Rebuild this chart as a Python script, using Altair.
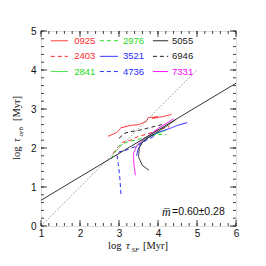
import altair as alt
import pandas as pd

# ---------------- data ----------------
series_names = ["0925", "2403", "2841", "2976", "3521", "4736", "5055", "6946", "7331"]
series_colors = ["#ff2a2a", "#ff2a2a", "#22dd22", "#22dd22", "#2a2aff", "#2a2aff", "#222222", "#222222", "#ff00ff"]
series_dash = ["solid", "dashed", "solid", "dashed", "solid", "dashed", "solid", "dashed", "solid"]

x0925 = [2.72, 2.95, 3.05, 3.3, 3.5, 3.7, 3.75, 4.0, 3.85, 4.1, 4.35]
y0925 = [2.3, 2.4, 2.52, 2.58, 2.6, 2.68, 2.78, 2.8, 2.76, 2.8, 2.86]
x2403 = [2.85, 2.95, 3.1, 3.3, 3.5, 3.7, 3.9, 4.1, 4.3]
y2403 = [1.85, 2.0, 2.15, 2.2, 2.3, 2.35, 2.42, 2.5, 2.55]
x2841 = [3.4, 3.5, 3.7, 3.9, 4.1, 4.2]
y2841 = [2.0, 2.1, 2.25, 2.35, 2.42, 2.45]
x2976 = [2.8, 2.9, 3.0, 3.2, 3.4, 3.6, 3.8, 4.0, 4.2]
y2976 = [1.72, 1.9, 2.05, 2.15, 2.2, 2.25, 2.3, 2.35, 2.35]
x3521 = [3.45, 3.5, 3.6, 3.8, 4.0, 4.3, 4.5, 4.75]
y3521 = [1.8, 2.0, 2.15, 2.3, 2.4, 2.5, 2.58, 2.65]
x4736 = [3.05, 3.02, 2.98, 2.95, 3.0, 3.2, 3.45, 3.7, 3.9]
y4736 = [0.82, 1.25, 1.6, 1.8, 1.9, 1.95, 2.05, 2.2, 2.3]
x5055 = [3.77, 3.6, 3.5, 3.52, 3.6, 3.8, 4.0, 4.2, 4.45]
y5055 = [1.43, 1.55, 1.77, 2.0, 2.15, 2.3, 2.42, 2.55, 2.72]
x6946 = [3.0, 3.15, 3.3, 3.5, 3.7, 3.9, 4.1]
y6946 = [2.25, 2.38, 2.42, 2.45, 2.5, 2.55, 2.6]
x7331 = [3.42, 3.38, 3.37, 3.45, 3.6, 3.8, 4.0, 4.2, 4.4]
y7331 = [1.3, 1.6, 1.85, 2.05, 2.2, 2.35, 2.5, 2.62, 2.75]

series_x = [x0925, x2403, x2841, x2976, x3521, x4736, x5055, x6946, x7331]
series_y = [y0925, y2403, y2841, y2976, y3521, y4736, y5055, y6946, y7331]

# fit line (slope 0.60) and 1:1 line
fit_x = [1.0, 6.0]
fit_y = [0.66, 3.66]
one_x = [1.0, 5.0]
one_y = [0.0, 4.0]

# legend layout (columns / rows in data units)
leg_col_x1 = [1.25, 2.51, 3.87]
leg_col_x2 = [1.69, 2.97, 4.26]
leg_col_tx = [1.85, 3.10, 4.36]
leg_row_y = [4.75, 4.35, 3.96]
leg_order = ["0925", "2976", "5055", "2403", "3521", "6946", "2841", "4736", "7331"]

x_ticks = [1, 2, 3, 4, 5, 6]
y_ticks = [0, 1, 2, 3, 4, 5]
x_minor = [round(1 + 0.2 * i, 2) for i in range(26)]
y_minor = [round(0.2 * i, 2) for i in range(26)]

W = 195
H = 195

# ---------------- tables ----------------
rows = []
for name, xs_, ys_, dash in zip(series_names, series_x, series_y, series_dash):
    for i, (a, b) in enumerate(zip(xs_, ys_)):
        rows.append({"series": name, "x": a, "y": b, "o": i, "dash": dash})
df = pd.DataFrame(rows)

leg_rows = []
for k, name in enumerate(leg_order):
    r, c = divmod(k, 3)
    idx = series_names.index(name)
    leg_rows.append({"series": name, "x1": leg_col_x1[c], "x2": leg_col_x2[c],
                     "tx": leg_col_tx[c], "y": leg_row_y[r], "dash": series_dash[idx]})
leg = pd.DataFrame(leg_rows)

xs = alt.Scale(domain=[1, 6], nice=False, zero=False)
ys = alt.Scale(domain=[0, 5], nice=False, zero=False)
cs = alt.Scale(domain=series_names, range=series_colors)
ds = alt.Scale(domain=["solid", "dashed"], range=[[1, 0], [4, 3]])

xaxis = alt.Axis(values=x_ticks, tickSize=0, domain=False, grid=False,
                 labelFont="Liberation Sans", labelFontSize=10,
                 labelColor="#111", labelPadding=2, labelOverlap=False,
                 labelFlush=False, labelBound=False)
yaxis = alt.Axis(values=y_ticks, tickSize=0, domain=False, grid=False,
                 labelFont="Liberation Sans", labelFontSize=10,
                 labelColor="#111", labelPadding=5, labelOverlap=False,
                 labelFlush=False, labelBound=False)


def X(field):
    return alt.X(field, type="quantitative", scale=xs, title=None, axis=xaxis)


def Y(field):
    return alt.Y(field, type="quantitative", scale=ys, title=None, axis=yaxis)


lines = alt.Chart(df).mark_line(strokeWidth=1, clip=True).encode(
    x=X("x"), y=Y("y"),
    color=alt.Color("series:N", scale=cs, legend=None),
    strokeDash=alt.StrokeDash("dash:N", scale=ds, legend=None),
    detail="series:N",
    order="o:Q",
)

fit = alt.Chart(pd.DataFrame({"x": fit_x, "y": fit_y})).mark_line(
    color="#333", strokeWidth=1).encode(x=X("x"), y=Y("y"))
one = alt.Chart(pd.DataFrame({"x": one_x, "y": one_y})).mark_line(
    color="#555", strokeWidth=0.7, strokeDash=[1, 1.5]).encode(x=X("x"), y=Y("y"))

leg_lines = alt.Chart(leg).mark_rule(strokeWidth=1).encode(
    x=X("x1"), x2="x2:Q", y=Y("y"),
    color=alt.Color("series:N", scale=cs, legend=None),
    strokeDash=alt.StrokeDash("dash:N", scale=ds, legend=None),
)
leg_text = alt.Chart(leg).mark_text(align="left", baseline="middle", font="Liberation Sans",
                                    fontSize=9.5).encode(
    x=X("tx"), y=Y("y"), text="series:N",
    color=alt.Color("series:N", scale=cs, legend=None),
)


# ticks (inward, all four sides)
def xt(vals, length):
    d = pd.DataFrame({"x": vals})
    bot = alt.Chart(d).mark_rule(color="#111", strokeWidth=0.8).encode(
        x=X("x"), y=alt.value(H), y2=alt.value(H - length))
    top = alt.Chart(d).mark_rule(color="#111", strokeWidth=0.8).encode(
        x=X("x"), y=alt.value(0), y2=alt.value(length))
    return [bot, top]


def yt(vals, length):
    d = pd.DataFrame({"y": vals})
    lef = alt.Chart(d).mark_rule(color="#111", strokeWidth=0.8).encode(
        y=Y("y"), x=alt.value(0), x2=alt.value(length))
    rig = alt.Chart(d).mark_rule(color="#111", strokeWidth=0.8).encode(
        y=Y("y"), x=alt.value(W), x2=alt.value(W - length))
    return [lef, rig]


ticks = xt(x_ticks, 6) + xt(x_minor, 3) + yt(y_ticks, 6) + yt(y_minor, 3)


# axis titles built from text pieces (with subscripts)
def txt(s, x, y, size=10, italic=False, angle=0, font="Liberation Serif"):
    kw = dict(align="left", baseline="alphabetic", font=font, fontSize=size, color="#111")
    if italic:
        kw["fontStyle"] = "italic"
    if angle:
        kw["angle"] = angle
    return alt.Chart(pd.DataFrame({"t": [s]})).mark_text(**kw).encode(
        x=alt.value(x), y=alt.value(y), text="t:N")


titles = [
    txt("log", 67, 218, 10.5),
    txt("τ", 85, 218, 10.5, italic=True),
    txt("SF", 90.5, 220.5, 7, italic=True),
    txt("[Myr]", 102, 218, 10.5),
    txt("log", -21, 129, 10.5, angle=270),
    txt("τ", -21, 111, 10.5, italic=True, angle=270),
    txt("orb", -18.5, 105.5, 7, italic=True, angle=270),
    txt("[Myr]", -21, 90, 10.5, angle=270),
]

ann_m = alt.Chart(pd.DataFrame({"t": ["m\u0305"]})).mark_text(
    align="left", baseline="middle", font="Liberation Serif", fontStyle="italic",
    fontSize=12, color="#111").encode(x=alt.value(121), y=alt.value(181), text="t:N")
ann_v = alt.Chart(pd.DataFrame({"t": ["=0.60±0.28"]})).mark_text(
    align="left", baseline="middle", font="Liberation Sans",
    fontSize=10.5, color="#111").encode(x=alt.value(131), y=alt.value(181), text="t:N")

chart = alt.layer(lines, one, fit, leg_lines, leg_text, *ticks, *titles, ann_m, ann_v).properties(
    width=W, height=H,
    autosize=alt.AutoSizeParams(type="none"),
    padding={"left": 33, "top": 23, "right": 22, "bottom": 30},
).configure_view(stroke="#111", strokeWidth=1).configure_axis(
    labelOverlap=False, labelFlush=False
).configure(background="white")

chart.save("out.html", embed_options={"renderer": "svg", "actions": False})
